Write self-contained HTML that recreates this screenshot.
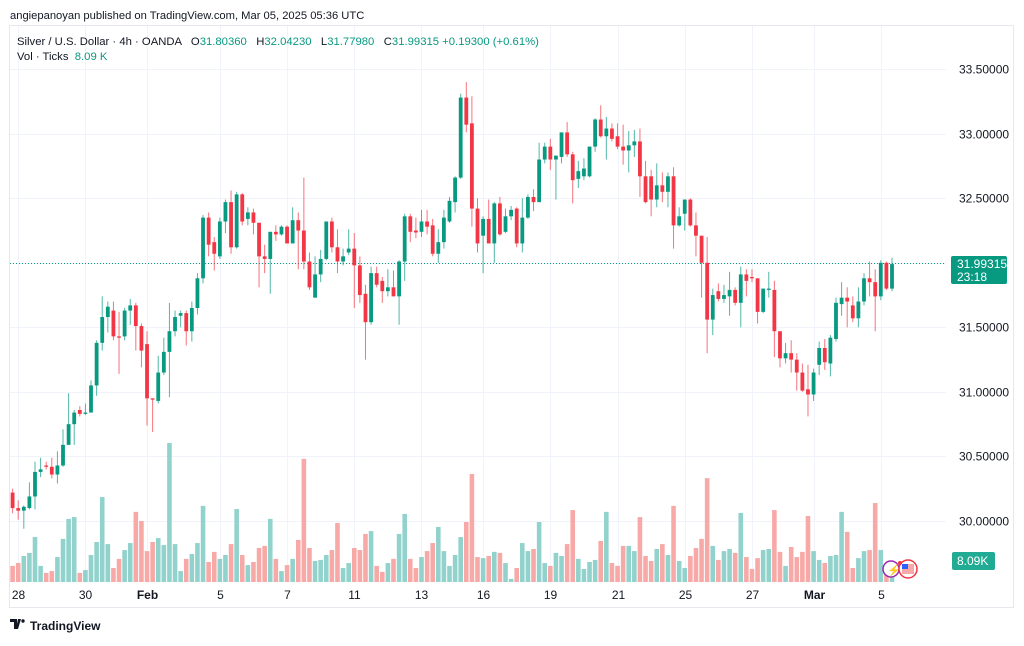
<!DOCTYPE html>
<html><head><meta charset="utf-8"><style>
body{margin:0;background:#fff;width:1024px;height:641px;overflow:hidden;font-family:"Liberation Sans",sans-serif}
svg text{font-family:"Liberation Sans",sans-serif}
.pre{white-space:pre}
</style></head><body>
<svg id="chart" width="1024" height="641" viewBox="0 0 1024 641" xmlns="http://www.w3.org/2000/svg">
<text x="10" y="19" font-size="11.2" fill="#131722">angiepanoyan published on TradingView.com, Mar 05, 2025 05:36 UTC</text>
<rect x="9.5" y="25.5" width="1004" height="582" fill="none" stroke="#e6e8ee"/>
<g id="grid"></g>
<g id="vol"></g>
<line x1="10" y1="263.5" x2="946" y2="263.5" stroke="#089981" stroke-dasharray="1,2"/>
<g id="candles"></g>
<g id="axis"></g>
<g id="taxis"></g>
<text class="pre" x="17" y="45" font-size="11.3" fill="#131722">Silver / U.S. Dollar · 4h · OANDA   O<tspan fill="#089981">31.80360</tspan>   H<tspan fill="#089981">32.04230</tspan>   L<tspan fill="#089981">31.77980</tspan>   C<tspan fill="#089981">31.99315 +0.19300 (+0.61%)</tspan></text>
<text class="pre" x="17" y="60" font-size="11.3" fill="#131722">Vol · Ticks  <tspan fill="#089981">8.09 K</tspan></text>
<rect x="951" y="256" width="56" height="28" rx="2" fill="#089981"/>
<text x="957" y="268" font-size="12" fill="#fff">31.99315</text>
<text x="957" y="281" font-size="12" fill="#fff">23:18</text>
<rect x="952" y="552" width="43" height="18" rx="2" fill="#22ab94"/>
<text x="957" y="565" font-size="12" fill="#fff">8.09K</text>
<g>
<circle cx="891" cy="569" r="8" fill="#fff" stroke="#9c27b0" stroke-width="1.5"/>
<text x="887" y="574" font-size="11" fill="#9c27b0">⚡</text>
<circle cx="908" cy="569" r="9" fill="#fff" stroke="#f23645" stroke-width="1.5"/>
<rect x="902" y="564" width="12" height="10" fill="#f7a9a7"/>
<rect x="902" y="564" width="6" height="5" fill="#2962ff"/>
<circle cx="900" cy="563" r="2" fill="#f23645"/>
</g>
<g>
<path d="M10 619h7v10h-3v-7h-4z M18 619h3l-3 10h-2z" fill="#131722"/>
<circle cx="23" cy="621" r="1.7" fill="#131722"/>
<text x="30" y="630" font-size="12" fill="#131722" font-weight="bold">TradingView</text>
</g>
</svg>
<script>
const opens=[30.22,30.10,30.08,30.10,30.19,30.38,30.43,30.42,30.36,30.43,30.59,30.75,30.86,30.83,30.84,31.05,31.38,31.58,31.63,31.43,31.43,31.63,31.67,31.51,31.37,30.95,30.93,31.15,31.31,31.47,31.59,31.61,31.47,31.65,31.88,32.35,32.16,32.05,32.32,32.47,32.12,32.53,32.34,32.39,32.31,32.05,32.03,32.24,32.22,32.28,32.15,32.33,32.25,32.01,31.73,31.91,32.03,32.32,32.12,32.01,32.08,32.11,31.98,31.76,31.54,31.92,31.86,31.78,31.81,31.74,32.01,32.36,32.25,32.24,32.32,32.29,32.07,32.16,32.32,32.47,32.66,33.28,33.08,32.42,32.21,32.34,32.15,32.46,32.24,32.36,32.42,32.15,32.35,32.51,32.47,32.80,32.90,32.80,32.82,33.01,32.84,32.65,32.67,32.67,32.90,33.11,32.98,33.04,32.98,32.90,32.87,32.91,32.94,32.67,32.67,32.49,32.60,32.55,32.67,32.29,32.38,32.49,32.29,32.21,32.00,31.56,31.78,31.72,31.74,31.79,31.69,31.91,31.89,31.88,31.62,31.79,31.79,31.47,31.26,31.30,31.25,31.15,31.02,30.98,31.21,31.34,31.22,31.41,31.68,31.73,31.67,31.57,31.70,31.88,31.85,31.74,32.00,31.80];
const highs=[30.25,30.16,30.12,30.30,30.46,30.49,30.46,30.49,30.54,30.71,30.99,30.86,30.89,30.91,31.09,31.40,31.74,31.70,31.70,31.62,31.65,31.72,31.69,31.53,31.47,30.95,31.28,31.42,31.69,31.63,31.63,31.63,31.70,31.92,32.37,32.39,32.20,32.35,32.49,32.56,32.55,32.54,32.43,32.42,32.31,32.14,32.24,32.29,32.29,32.29,32.43,32.39,32.66,32.08,32.05,32.10,32.32,32.35,32.26,32.11,32.26,32.23,32.05,31.83,31.97,31.97,31.89,31.95,31.94,32.02,32.38,32.38,32.35,32.41,32.41,32.34,32.26,32.41,32.51,32.67,33.31,33.40,33.29,32.50,32.36,32.49,32.47,32.51,32.42,32.44,32.43,32.50,32.53,32.57,32.93,32.93,32.96,32.83,33.01,33.09,32.86,32.79,32.81,32.90,33.12,33.22,33.13,33.08,33.08,33.07,33.02,33.03,33.04,32.79,32.72,32.77,32.70,32.70,32.74,32.43,32.49,32.50,32.39,32.21,32.20,31.80,31.84,31.83,31.93,31.81,31.97,31.95,31.95,31.88,31.80,31.93,31.86,31.47,31.38,31.40,31.30,31.22,31.21,31.18,31.39,31.41,31.44,31.73,31.85,31.81,31.74,31.81,31.92,32.01,31.95,32.02,32.01,32.04];
const lows=[30.06,30.01,29.94,30.09,30.09,30.34,30.40,30.33,30.29,30.42,30.59,30.59,30.81,30.82,30.84,30.97,31.32,31.46,31.40,31.14,31.40,31.52,31.32,31.19,30.74,30.69,30.91,31.13,30.96,31.43,31.50,31.36,31.39,31.60,31.84,32.05,31.94,32.03,32.23,32.07,32.11,32.29,32.29,32.22,31.81,31.92,31.76,32.17,32.21,32.15,32.15,31.95,31.95,31.79,31.73,31.85,32.02,32.08,31.92,31.98,32.06,31.65,31.69,31.25,31.52,31.81,31.69,31.74,31.74,31.52,31.86,32.16,32.19,32.20,32.22,32.05,32.00,32.11,32.31,32.39,32.65,33.01,32.28,32.08,31.92,32.15,32.00,32.21,32.23,32.33,32.12,32.08,32.34,32.40,32.47,32.77,32.72,32.49,32.77,32.82,32.46,32.58,32.64,32.66,32.86,32.97,32.80,32.94,32.88,32.76,32.70,32.82,32.51,32.46,32.36,32.43,32.47,32.43,32.11,32.28,32.25,32.28,32.05,31.73,31.30,31.44,31.70,31.69,31.59,31.67,31.50,31.74,31.85,31.53,31.61,31.73,31.27,31.19,31.22,31.15,31.01,31.00,30.81,30.93,31.13,31.17,31.12,31.39,31.59,31.50,31.54,31.50,31.67,31.74,31.47,31.71,31.79,31.78];
const closes=[30.10,30.08,30.11,30.19,30.38,30.40,30.42,30.36,30.43,30.59,30.75,30.84,30.83,30.84,31.05,31.38,31.58,31.66,31.43,31.42,31.63,31.67,31.51,31.32,30.95,30.94,31.15,31.31,31.47,31.58,31.61,31.47,31.65,31.88,32.35,32.14,32.07,32.32,32.47,32.12,32.53,32.32,32.39,32.31,32.05,32.03,32.24,32.22,32.28,32.15,32.33,32.25,32.01,31.81,31.91,32.03,32.32,32.12,32.01,32.05,32.11,31.98,31.75,31.54,31.92,31.83,31.78,31.81,31.74,32.01,32.36,32.24,32.235,32.32,32.28,32.07,32.16,32.35,32.48,32.66,33.28,33.07,32.42,32.15,32.34,32.15,32.46,32.22,32.36,32.41,32.15,32.35,32.51,32.47,32.80,32.90,32.80,32.83,33.01,32.84,32.64,32.71,32.73,32.90,33.11,32.98,33.04,32.96,32.90,32.87,32.91,32.94,32.67,32.47,32.49,32.60,32.55,32.67,32.29,32.36,32.49,32.29,32.21,32.00,31.56,31.75,31.72,31.75,31.79,31.69,31.91,31.86,31.88,31.62,31.80,31.80,31.47,31.26,31.30,31.25,31.15,31.01,30.98,31.15,31.34,31.23,31.42,31.69,31.73,31.70,31.57,31.70,31.88,31.85,31.74,32.00,31.80,31.99];
const volumes=[6.2,7.3,10.0,11.2,17.3,6.2,3.5,4.2,9.6,16.6,24.3,25.0,3.5,4.6,10.4,15.4,32.7,14.6,5.4,8.9,12.3,15.0,27.0,23.5,11.9,15.4,16.9,14.2,53.5,14.6,4.2,8.9,10.8,15.0,29.3,7.7,11.6,8.9,10.4,14.6,28.1,10.4,6.5,7.7,13.1,13.9,24.3,8.9,4.2,6.5,8.9,16.2,47.4,13.1,8.1,8.5,10.4,12.3,22.7,5.4,7.3,13.1,12.3,18.5,19.6,6.2,3.9,7.3,8.9,18.5,26.2,8.9,5.4,9.6,11.9,15.0,21.2,11.9,6.2,10.4,17.3,23.1,41.6,9.6,9.2,10.0,11.6,11.2,7.3,1.2,5.4,15.0,11.9,12.7,23.1,7.3,6.2,11.2,10.0,14.6,27.7,8.9,5.0,7.7,8.5,15.8,27.0,7.3,6.2,13.9,13.9,11.9,25.0,10.0,8.1,12.7,14.6,10.4,29.3,8.1,5.4,10.0,13.1,16.6,40.0,13.9,8.5,11.9,12.7,11.2,26.6,9.6,5.0,9.2,12.3,12.7,27.7,11.6,6.2,13.5,9.6,11.6,25.4,11.9,8.5,7.3,10.0,10.4,27.0,19.3,5.4,9.2,11.9,12.3,30.4,12.3,3.9,8.09];
const priceTicks=[33.5,33.0,32.5,32.0,31.5,31.0,30.5,30.0];
const timeLabels=["28","30","Feb","5","7","11","13","16","19","21","25","27","Mar","5"];
const timeIndex=[1,13,24,37,49,61,73,84,96,108,120,132,143,155];

const NS="http://www.w3.org/2000/svg";
const X0=12.6, DX=(892-12.6)/(closes.length-1);
const xAt=i=>X0+i*DX;
const yP=p=>521-(p-30)*129.1;
const yV=v=>582-v/0.385;
function mk(tag,attrs,parent){const e=document.createElementNS(NS,tag);for(const k in attrs)e.setAttribute(k,attrs[k]);parent.appendChild(e);return e;}
const grid=document.getElementById('grid'),vol=document.getElementById('vol'),cg=document.getElementById('candles'),ax=document.getElementById('axis'),tx=document.getElementById('taxis');
priceTicks.forEach(p=>{
  const y=Math.round(yP(p))+0.5;
  const l=mk('line',{x1:10,x2:946,y1:y,y2:y,stroke:'#f0f3fa'},grid);
  
  
  if(Math.abs(p-32.0)>0.01){
    const t=mk('text',{x:959,y:y+4,'font-size':12,fill:'#131722'},ax);
    t.textContent=p.toFixed(5);
    
    
  }
});
timeLabels.forEach((s,k)=>{
  const x=Math.round(xAt(timeIndex[k]))+0.5;
  const l=mk('line',{x1:x,x2:x,y1:26,y2:583,stroke:'#f0f3fa'},grid);
  
  
  const t=mk('text',{x:x,y:599,'font-size':12,fill:'#131722','text-anchor':'middle','font-weight':(s==='Feb'||s==='Mar')?'bold':'normal'},tx);
  t.textContent=s;
  
  
});
closes.forEach((c,i)=>{
  const o=opens[i],up=c>=o,x=xAt(i);
  const v=volumes[i];
  const b=mk('rect',{x:x-2.3,y:yV(v),width:4.6,height:582-yV(v),fill:up?'#92d2cc':'#f7a9a7'},vol);
  
  
  const col=up?'#089981':'#f23645';
  const w=mk('line',{x1:x,x2:x,y1:yP(highs[i]),y2:yP(lows[i]),stroke:col,'stroke-width':1,'stroke-opacity':0.7},cg);
  
  
  const top=yP(Math.max(o,c)),h=Math.max(1.2,Math.abs(yP(o)-yP(c)));
  const r=mk('rect',{x:x-1.9,y:top,width:3.8,height:h,fill:col},cg);
  
  
});
</script>
</body></html>
